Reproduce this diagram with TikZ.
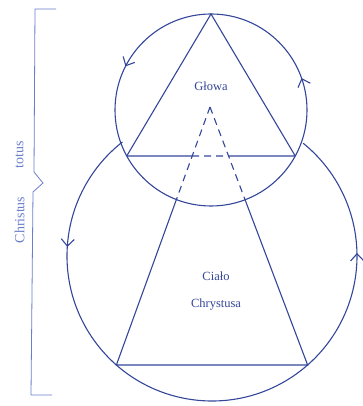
\documentclass[tikz,border=0pt]{standalone}
\usepackage{fontspec}
\setmainfont{Liberation Serif}
\usetikzlibrary{decorations.markings,arrows.meta,intersections,calc}
\definecolor{navy}{HTML}{34469A}
\definecolor{lightblue}{HTML}{6A7ECB}
\begin{document}
\begin{tikzpicture}[x=1pt,y=1pt,
  line/.style={navy, line width=1.1pt},
  dashline/.style={navy, line width=1.1pt, dash pattern=on 7pt off 5pt},
  lbl/.style={text=navy, font=\fontsize{12.5}{14}\selectfont, inner sep=0pt},
  side/.style={text=lightblue, font=\fontsize{14}{16}\selectfont, rotate=90, inner sep=0pt}]
\useasboundingbox (0,0) rectangle (362,406);
% centres and key points
\coordinate (S) at (211,296);
\coordinate (B) at (212,150);
\coordinate (T) at (211,392);
\coordinate (BL) at (126.74,250);
\coordinate (BR) at (295.26,250);
\coordinate (P) at (210,299);
\coordinate (L) at (116.38,41);
\coordinate (R) at (307.62,41);
% small circle (head)
\draw[line, postaction={decorate}, decoration={markings,
   mark=at position 0.054 with {\arrow{Straight Barb[length=7pt,width=13pt,line width=1.1pt]}},
   mark=at position 0.425 with {\arrow{Straight Barb[length=7pt,width=13pt,line width=1.1pt]}}}]
  ($(S)+(0:96)$) arc[start angle=0, end angle=360, radius=96];
% big circle (body), only outside the small one
\draw[line, postaction={decorate}, decoration={markings,
   mark=at position 0.1706 with {\arrow{Straight Barb[length=7pt,width=13pt,line width=1.1pt]}},
   mark=at position 0.8237 with {\arrow{Straight Barb[length=7pt,width=13pt,line width=1.1pt]}}}]
  ($(B)+(128.14:145)$) arc[start angle=128.14, end angle=411.08, radius=145];
% intersections
\path[name path=sc] (S) circle[radius=96];
\path[name path=ll] (P) -- (L);
\path[name path=rr] (P) -- (R);
\path[name intersections={of=sc and ll, by=Lt}];
\path[name intersections={of=sc and rr, by=Rt}];
\coordinate (X1) at (intersection of P--L and BL--BR);
\coordinate (X2) at (intersection of P--R and BL--BR);
% triangle (head)
\draw[line] (BL) -- (T) -- (BR);
\draw[line] (BL) -- (X1);
\draw[dashline] (X1) -- (X2);
\draw[line] (X2) -- (BR);
% trapezoid (body)
\draw[dashline] (P) -- (Lt);
\draw[dashline] (P) -- (Rt);
\draw[line] (Lt) -- (L) -- (R) -- (Rt);
% labels
\node[lbl] (glowa) at (211,320) {Głowa};
\node[lbl] (cialo) at (216,130) {Ciało};
\node[lbl] (chrystusa) at (216,101) {Chrystusa};
% bracket
\draw[lightblue, line width=0.8pt] (56,397) -- (35,397) -- (34,234) -- (43,223) -- (33,214) -- (31,11) -- (52,11);
\node[side] (totus) at (19.5,251) {totus};
\node[side] (christus) at (19.5,186) {Christus};
\end{tikzpicture}
\end{document}
